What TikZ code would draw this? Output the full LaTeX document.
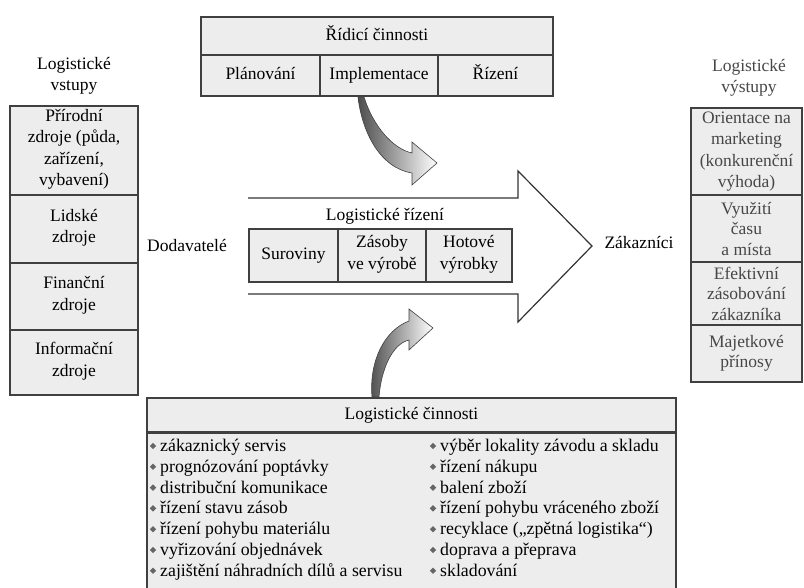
\documentclass[tikz,border=0pt]{standalone}
\usepackage{fontspec}
\setmainfont{Liberation Serif}
\usetikzlibrary{shapes.geometric}

\begin{document}
\begin{tikzpicture}[x=1pt,y=-1pt,
  every node/.style={font=\fontsize{17.5}{21.5}\selectfont, inner sep=0pt},
  cell/.style={draw=black!75, line width=1.1pt, fill=black!7, align=center,
    execute at begin node=\strut, execute at end node=\strut},
  outcell/.style={draw=black!75, line width=1.1pt, fill=black!7, align=center,
    text=black!72, font=\fontsize{17.5}{20.5}\selectfont},
  label/.style={align=center},
  item/.style={anchor=base west, font=\fontsize{17.8}{20}\selectfont},
  bul/.style={diamond, fill=black!60, minimum size=6.5pt, inner sep=0pt},
  swoosh/.style={draw=black!75, line width=0.6pt, left color=black!70, right color=white},
]
\clip (0,0) rectangle (804,588);
\fill[white] (0,0) rectangle (804,588);

% managing activities on top
\node[cell, minimum width=352pt, minimum height=38pt] (ctrl) at (377,36) {Řídicí činnosti};
\node[cell, minimum width=119pt, minimum height=41pt] (plan) at (260.5,75.5) {Plánování};
\node[cell, minimum width=118pt, minimum height=41pt] (impl) at (379,75.5) {Implementace};
\node[cell, minimum width=115pt, minimum height=41pt] (ctl)  at (495.5,75.5) {Řízení};

% inputs column
\node[label] (inlab) at (74,76) {Logistické\\vstupy};
\node[cell, minimum width=128pt, minimum height=89pt] (in1) at (74,150.5) {Přírodní\\zdroje (půda,\\zařízení,\\vybavení)};
\node[cell, minimum width=128pt, minimum height=68pt] (in2) at (74,229) {Lidské\\zdroje};
\node[cell, minimum width=128pt, minimum height=67pt] (in3) at (74,296.5) {Finanční\\zdroje};
\node[cell, minimum width=128pt, minimum height=65pt] (in4) at (74,362.5) {Informační\\zdroje};

% outputs column
\node[label, text=black!72] (outlab) at (749,78) {Logistické\\výstupy};
\node[outcell, minimum width=111pt, minimum height=87pt, font=\fontsize{17.5}{21.5}\selectfont] (out1) at (746.5,151.5) {Orientace na\\marketing\\(konkurenční\\výhoda)};
\node[outcell, minimum width=111pt, minimum height=67pt] (out2) at (746.5,228.5) {Využití\\času\\a místa};
\node[outcell, minimum width=111pt, minimum height=63pt] (out3) at (746.5,293.5) {Efektivní\\zásobování\\zákazníka};
\node[outcell, minimum width=111pt, minimum height=57pt] (out4) at (746.5,353.5) {Majetkové\\přínosy};

% suppliers and customers
\node (supp) at (187,246) {Dodavatelé};
\node (cust) at (639,243) {Zákazníci};

% large flow arrow, open at its tail
\path[fill=white] (248,198) -- (518,198) -- (518,171) -- (592,246) -- (518,322) -- (518,294) -- (248,294) -- cycle;
\draw[line width=1.2pt, draw=black!80, line join=miter]
  (248,198) -- (518,198) -- (518,171) -- (592,246) -- (518,322) -- (518,294) -- (248,294);

% logistics management inside the arrow
\node (mgmt) at (385,216) {Logistické řízení};
\node[cell, minimum width=89pt, minimum height=53pt] (raw) at (293.5,255.5) {Suroviny};
\node[cell, minimum width=88pt, minimum height=53pt] (wip) at (382,255.5) {Zásoby\\ve výrobě};
\node[cell, minimum width=86pt, minimum height=53pt] (fin) at (469,255.5) {Hotové\\výrobky};

% logistics activities box
\node[cell, minimum width=529pt, minimum height=34pt] (act) at (411.5,415) {Logistické činnosti};
\node[cell, minimum width=529pt, minimum height=168pt, anchor=north] (actbody) at (act.south) {};

\foreach \t [count=\i from 0] in {zákaznický servis, prognózování poptávky, distribuční komunikace,
  řízení stavu zásob, řízení pohybu materiálu, vyřizování objednávek,
  zajištění náhradních dílů a servisu}{
  \node[bul] (lb\i) at (153,{446+20.8*\i}) {};
  \node[item] (li\i) at (160,{451.5+20.8*\i}) {\t};
}
\foreach \t [count=\i from 0] in {výběr lokality závodu a skladu, řízení nákupu, balení zboží,
  řízení pohybu vráceného zboží, recyklace („zpětná logistika“), doprava a přeprava,
  skladování}{
  \node[bul] (rb\i) at (433,{446+20.8*\i}) {};
  \node[item] (ri\i) at (440,{451.5+20.8*\i}) {\t};
}

% curved arrow from the managing activities
\path[swoosh]
  (358,97) .. controls (362,132) and (380,168) .. (412,173)
  -- (412,185) -- (437,163) -- (412,142) -- (412,153)
  .. controls (393,149) and (373,126) .. (364,97) -- cycle;

% curved arrow from the logistics activities
\path[swoosh]
  (372,397) .. controls (369,360) and (385,330) .. (409,321)
  -- (409,309) -- (433,328) -- (409,350) -- (409,340)
  .. controls (392,344) and (381,370) .. (379,397) -- cycle;
\end{tikzpicture}
\end{document}
